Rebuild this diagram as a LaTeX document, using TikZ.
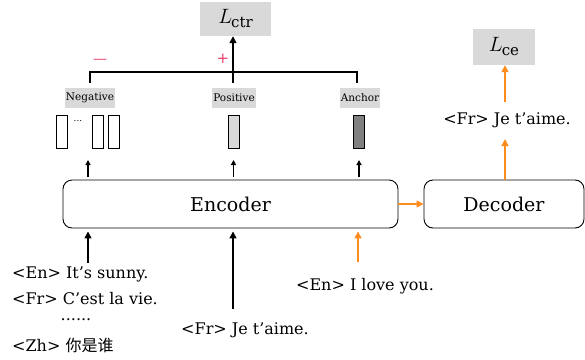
\documentclass[tikz,border=0pt]{standalone}
\usepackage{fontspec}
\setmainfont{DejaVu Serif}
\newfontfamily\cjk{Noto Sans CJK SC}
\usetikzlibrary{arrows.meta}
\definecolor{myorange}{RGB}{255,140,30}
\definecolor{mygray}{RGB}{217,217,217}
\definecolor{mypink}{RGB}{230,60,100}
\tikzset{
  blk/.style={draw, line width=0.9pt, rounded corners=9pt, minimum width=#1, minimum height=48pt, inner sep=0pt, font=\fontsize{19}{22}\selectfont},
  loss/.style={fill=mygray, inner sep=0pt, font=\fontsize{20}{22}\selectfont},
  tag/.style={fill=mygray, inner sep=1pt, minimum height=20pt, font=\fontsize{10.5}{12}\selectfont},
  vec/.style={draw, line width=0.6pt, minimum width=11pt, minimum height=33pt, inner sep=0pt},
  txt/.style={inner sep=0pt, font=\fontsize{16}{18}\selectfont},
  barr/.style={-{Triangle[length=7pt,width=7pt]}, line width=1.5pt},
  oarr/.style={-{Triangle[length=7pt,width=7pt]}, line width=1.5pt, myorange},
  sarr/.style={-{Triangle[length=5pt,width=5pt]}, line width=1.3pt},
}
\newcommand{\lossname}[1]{$L$\kern-1pt\raisebox{-4pt}{\fontsize{15}{15}\selectfont #1}}
\begin{document}
\begin{tikzpicture}[x=1pt,y=-1pt]
\useasboundingbox (0,0) rectangle (585,359);
% blocks
\node[blk=335pt] (enc) at (230.5,204) {Encoder};
\node[blk=160pt] (dec) at (504,204) {Decoder};
% losses
\node[loss, minimum width=71pt, minimum height=34pt] (lctr) at (235.5,19) {\lossname{ctr}};
\node[loss, minimum width=62pt, minimum height=36pt] (lce) at (504,47) {\lossname{ce}};
% tags
\node[tag] (neg) at (90,98) {Negative};
\node[tag] (pos) at (234,98) {Positive};
\node[tag] (anc) at (360,98) {Anchor};
% vectors
\node[vec] (n1) at (61.5,131.5) {};
\node[inner sep=0pt, font=\fontsize{9}{10}\selectfont] (ndots) at (78,121) {...};
\node[vec] (n2) at (97.5,131.5) {};
\node[vec] (n3) at (114,131.5) {};
\node[vec, fill=mygray] (pv) at (233.5,131.5) {};
\node[vec, fill=gray] (av) at (359,131.5) {};
% tree
\coordinate (tl) at (90,83);
\coordinate (tr) at (357,83);
\coordinate (tm) at (233,83);
\draw[line width=1.5pt] (tl) -- (90,72) -- (357,72) -- (tr);
\draw[barr] (tm) -- (lctr.south -| tm);
\node[mypink, font=\fontsize{14}{14}\selectfont] (minus) at (100,61) {—};
\node[mypink, font=\fontsize{15}{15}\selectfont] (plus) at (223,59) {+};
% small arrows
\draw[sarr] (88,177) -- (88,160);
\draw[sarr] (233.5,177) -- (233.5,160);
\draw[sarr] (359,177) -- (359,160);
% decoder side
\node[txt] (dout) at (507,120) {<Fr> Je t’aime.};
\coordinate (d1) at (505,139);
\coordinate (d2) at (505,102);
\draw[oarr] (enc.east) -- (dec.west);
\draw[oarr] (d1 |- dec.north) -- (d1);
\draw[oarr] (d2) -- (d2 |- lce.south);
% inputs
\node[txt, anchor=west] (i1) at (12,274) {<En> It’s sunny.};
\node[txt, anchor=west] (i2) at (12,299) {<Fr> C’est la vie.};
\node[txt] (i3) at (76,320) {......};
\node[txt, anchor=west] (i4) at (12,345) {<Zh> {\cjk 你是谁}};
\node[txt] (pin) at (245,330) {<Fr> Je t’aime.};
\node[txt] (ain) at (365,286) {<En> I love you.};
\coordinate (a1) at (88,263);
\coordinate (a2) at (233,309);
\coordinate (a3) at (358,262);
\draw[barr] (a1) -- ([yshift=-3pt]a1 |- enc.south);
\draw[barr] (a2) -- ([yshift=-3pt]a2 |- enc.south);
\draw[oarr] (a3) -- ([yshift=-3pt]a3 |- enc.south);
\end{tikzpicture}
\end{document}
